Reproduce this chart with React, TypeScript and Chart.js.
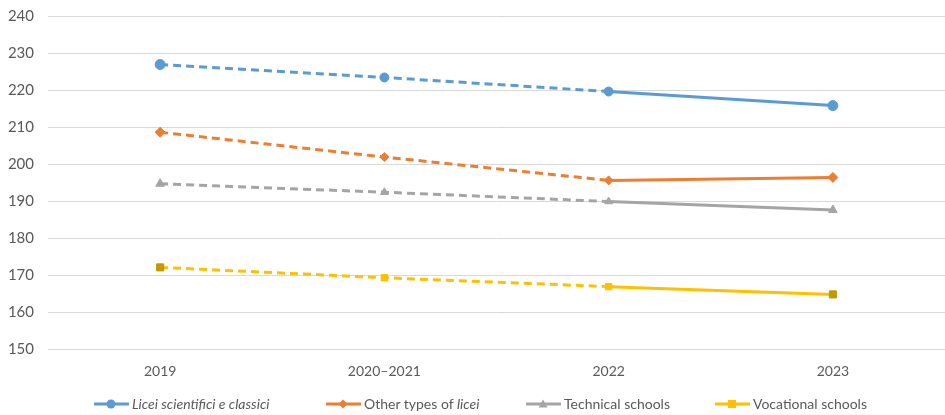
import React, { useEffect, useRef } from "react";
import { Chart, registerables } from "chart.js";

Chart.register(...registerables);

const categories = ["2019", "2020–2021", "2022", "2023"];
const liceiSC = [226.9, 223.4, 219.6, 215.8];
const otherLicei = [208.6, 201.9, 195.6, 196.4];
const technical = [194.7, 192.4, 189.9, 187.6];
const vocational = [172.1, 169.3, 166.9, 164.8];
const yTicks = { min: 150, max: 240, step: 10 };

const BLUE = "#5B9BD5";
const ORANGE = "#ED7D31";
const GRAY = "#A5A5A5";
const YELLOW = "#FFC000";

function mkDataset(label: string, data: number[], color: string, style: string, endFill: string) {
  const n = data.length;
  return {
    label,
    data,
    borderColor: color,
    backgroundColor: color,
    borderWidth: 3,
    pointStyle: style,
    pointRadius: data.map((_, i) => (i === 0 || i === n - 1 ? 5 : 4.5)),
    pointBackgroundColor: data.map((_, i) => (i === 0 || i === n - 1 ? endFill : color)),
    pointBorderColor: data.map((_, i) => (i === 0 || i === n - 1 ? endFill : color)),
    pointBorderWidth: 1,
    tension: 0,
    segment: {
      borderDash: (ctx: any) => (ctx.p1DataIndex <= 2 ? [8, 5] : undefined),
    },
  };
}

function LegendIcon({ color, shape, fill }: { color: string; shape: string; fill?: string }) {
  const f = fill || color;
  let marker: React.ReactNode = null;
  if (shape === "circle") marker = <circle cx={18} cy={6} r={4.5} fill={f} />;
  if (shape === "diamond") marker = <polygon points="18,1.5 22.5,6 18,10.5 13.5,6" fill={f} />;
  if (shape === "triangle") marker = <polygon points="18,1.5 22.5,9.5 13.5,9.5" fill={f} />;
  if (shape === "square") marker = <rect x={14} y={2} width={8} height={8} fill={f} />;
  return (
    <svg width={37} height={12} style={{ display: "block", marginRight: 2 }}>
      <line x1={1} y1={6} x2={36} y2={6} stroke={color} strokeWidth={3} />
      {marker}
    </svg>
  );
}

export default function App() {
  const ref = useRef<HTMLCanvasElement>(null);
  useEffect(() => {
    document.body.style.margin = "0";
    if (!ref.current) return;
    const chart = new Chart(ref.current, {
      type: "line",
      data: {
        labels: categories,
        datasets: [
          mkDataset("Licei scientifici e classici", liceiSC, BLUE, "circle", BLUE),
          mkDataset("Other types of licei", otherLicei, ORANGE, "rectRot", ORANGE),
          mkDataset("Technical schools", technical, GRAY, "triangle", GRAY),
          mkDataset("Vocational schools", vocational, YELLOW, "rect", "#BF9A00"),
        ] as any,
      },
      options: {
        animation: false,
        responsive: false,
        maintainAspectRatio: false,
        layout: { padding: { top: 16, left: 0, right: 0, bottom: 29 } },
        plugins: { legend: { display: false }, tooltip: { enabled: false } },
        scales: {
          x: {
            offset: true,
            grid: { display: false },
            border: { display: false },
            ticks: { color: "#595959", font: { family: "Lato", size: 14 }, padding: 6 },
            afterFit: (s: any) => {
              s.paddingLeft = 0;
              s.paddingRight = 0;
            },
          },
          y: {
            min: yTicks.min,
            max: yTicks.max,
            ticks: {
              stepSize: yTicks.step,
              color: "#595959",
              font: { family: "Lato", size: 15 },
              padding: 14,
            },
            grid: { color: "#D9D9D9", lineWidth: 1, drawTicks: false },
            border: { display: false },
            afterFit: (s: any) => {
              s.width = 48;
              s.paddingTop = 0;
              s.paddingBottom = 0;
            },
          },
        },
      },
    });
    return () => chart.destroy();
  }, []);

  const text = { fontFamily: "Lato", fontSize: 14, color: "#595959", whiteSpace: "nowrap" as const };
  const item = (left: number): React.CSSProperties => ({
    position: "absolute",
    left,
    top: 395,
    display: "flex",
    alignItems: "center",
    ...text,
  });

  return (
    <div style={{ position: "relative", width: 945, height: 415, background: "#fff", overflow: "hidden" }}>
      <canvas ref={ref} width={951} height={415} style={{ display: "block" }} />
      <div style={item(93)}>
        <LegendIcon color={BLUE} shape="circle" />
        <i>Licei scientifici e classici</i>
      </div>
      <div style={item(325)}>
        <LegendIcon color={ORANGE} shape="diamond" />
        <span>
          Other types of <i>licei</i>
        </span>
      </div>
      <div style={item(525)}>
        <LegendIcon color={GRAY} shape="triangle" />
        <span>Technical schools</span>
      </div>
      <div style={item(714)}>
        <LegendIcon color={YELLOW} shape="square" />
        <span>Vocational schools</span>
      </div>
    </div>
  );
}
